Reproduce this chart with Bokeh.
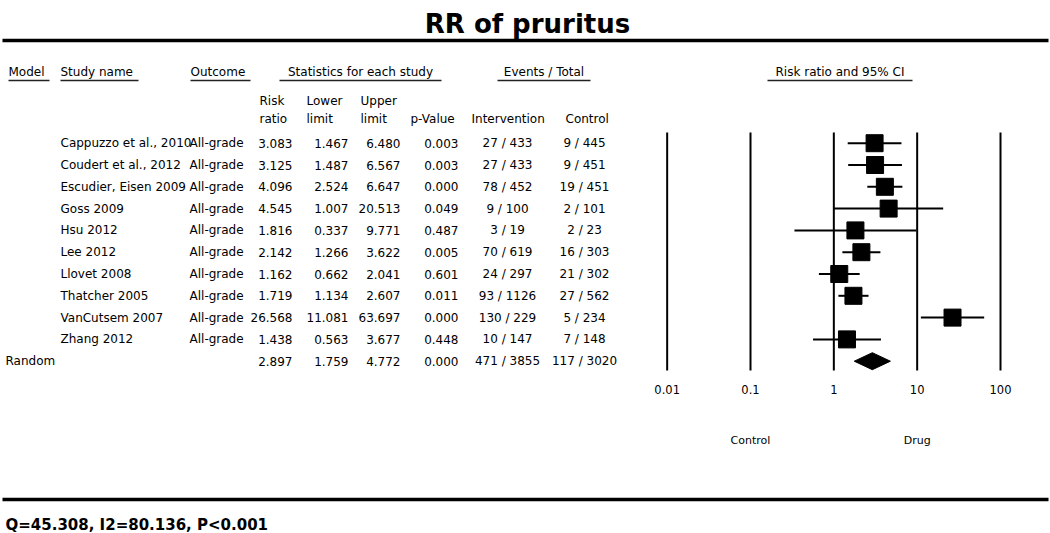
from bokeh.plotting import figure
from bokeh.models import Range1d, LogScale, ColumnDataSource
from bokeh.core.properties import value
from bokeh.embed import file_html
from bokeh.resources import INLINE

# ---------------- data ----------------
studies = ["Cappuzzo et al., 2010", "Coudert et al., 2012", "Escudier, Eisen 2009",
           "Goss 2009", "Hsu 2012", "Lee 2012", "Llovet 2008", "Thatcher 2005",
           "VanCutsem 2007", "Zhang 2012"]
outcome = ["All-grade"] * 10
risk_ratio = [3.083, 3.125, 4.096, 4.545, 1.816, 2.142, 1.162, 1.719, 26.568, 1.438]
lower_limit = [1.467, 1.487, 2.524, 1.007, 0.337, 1.266, 0.662, 1.134, 11.081, 0.563]
upper_limit = [6.480, 6.567, 6.647, 20.513, 9.771, 3.622, 2.041, 2.607, 63.697, 3.677]
p_value = [0.003, 0.003, 0.000, 0.049, 0.487, 0.005, 0.601, 0.011, 0.000, 0.448]
events_intervention = ["27 / 433", "27 / 433", "78 / 452", "9 / 100", "3 / 19", "70 / 619",
                       "24 / 297", "93 / 1126", "130 / 229", "10 / 147"]
events_control = ["9 / 445", "9 / 451", "19 / 451", "2 / 101", "2 / 23", "16 / 303",
                  "21 / 302", "27 / 562", "5 / 234", "7 / 148"]
pooled_label = "Random"
pooled_rr = 2.897
pooled_lower = 1.759
pooled_upper = 4.772
pooled_p = 0.000
pooled_intervention = "471 / 3855"
pooled_control = "117 / 3020"
axis_ticks = [0.01, 0.1, 1, 10, 100]
axis_tick_labels = ["0.01", "0.1", "1", "10", "100"]
title_text = "RR of pruritus"
favours_left = "Control"
favours_right = "Drug"
heterogeneity = "Q=45.308, I2=80.136, P<0.001"

# ---------------- layout constants ----------------
FONT = value("DejaVu Sans")
ROW0 = 142.7
ROWSTEP = 21.8
ys = [ROW0 + ROWSTEP * i for i in range(len(studies))]
ypool = ROW0 + ROWSTEP * len(studies)

p = figure(width=1050, height=533, x_range=Range1d(0, 1050), y_range=Range1d(533, 0),
           output_backend="svg", toolbar_location=None,
           x_axis_location=None, y_axis_location=None,
           min_border=0, outline_line_color=None)
for g in p.grid:
    g.visible = False
p.background_fill_color = "white"
p.border_fill_color = "white"

# log scale for the forest part: 1 decade = 83.33 units, 1 -> 833.3
p.extra_x_ranges = {"rr": Range1d(1e-10, 10 ** 2.6)}
p.extra_x_scales = {"rr": LogScale()}

def txt(x, y, t, size="12px", align="left", weight="normal", font=FONT, **kw):
    p.text(x=x, y=y, text=t, text_font=font, text_font_size=size,
           text_align=align, text_baseline="middle", text_font_style=weight,
           text_color="black", **kw)

# title
p.text(x=[527], y=[23], text=[title_text], text_font=FONT, text_font_size="26px",
       text_font_style="bold", text_align="center", text_baseline="alphabetic",
       text_color="black")

# thick rules
p.segment(x0=[2, 2], x1=[1048, 1048], y0=[40, 499], y1=[40, 499],
          line_width=3.5, line_color="black")

# column headers
hdr_text = ["Model", "Study name", "Outcome", "Statistics for each study",
            "Events / Total", "Risk ratio and 95% CI"]
hdr_x0 = [8, 60, 190, 279, 497, 767]
hdr_x1 = [49, 138, 250, 441, 590, 912]
hdr_align = ["left", "left", "left", "center", "center", "center"]
hdr_xpos = [8, 60, 190, 360, 543.5, 839.5]
for t, x, a in zip(hdr_text, hdr_xpos, hdr_align):
    txt([x], [71.5], [t], size="12px", align=a)
p.segment(x0=hdr_x0, x1=hdr_x1, y0=[80] * 6, y1=[80] * 6, line_width=1.5, line_color="#222222")

sub1 = ["Risk", "Lower", "Upper"]
sub1_x = [259, 306, 360]
txt(sub1_x, [100] * 3, sub1, size="12px")
sub2 = ["ratio", "limit", "limit", "p-Value", "Intervention", "Control"]
sub2_x = [259, 306, 360, 410, 471, 565]
txt(sub2_x, [118] * 6, sub2, size="12px")

# study rows
src = ColumnDataSource(dict(
    y=ys, study=studies, outcome=outcome,
    rr=risk_ratio, lo=lower_limit, hi=upper_limit,
    rr_s=["%.3f" % v for v in risk_ratio],
    lo_s=["%.3f" % v for v in lower_limit],
    hi_s=["%.3f" % v for v in upper_limit],
    p_s=["%.3f" % v for v in p_value],
    ev_i=events_intervention, ev_c=events_control,
))

def coltext(x, field, align):
    p.text(x=x, y="y", text=field, source=src, text_font=FONT, text_font_size="12px",
           text_align=align, text_baseline="middle", text_color="black")

coltext(60, "study", "left")
coltext(189, "outcome", "left")
coltext(292, "rr_s", "right")
coltext(348, "lo_s", "right")
coltext(400, "hi_s", "right")
coltext(458, "p_s", "right")
coltext(507, "ev_i", "center")
coltext(584, "ev_c", "center")

# pooled row
txt([5], [ypool], [pooled_label], size="12px")
txt([292, 348, 400, 458], [ypool] * 4,
    ["%.3f" % pooled_rr, "%.3f" % pooled_lower, "%.3f" % pooled_upper, "%.3f" % pooled_p],
    size="12px", align="right")
txt([507, 584], [ypool] * 2, [pooled_intervention, pooled_control], size="12px", align="center")

# forest plot: reference lines
p.segment(x0=axis_ticks, x1=axis_ticks, y0=[132] * 5, y1=[370] * 5,
          x_range_name="rr", line_width=2, line_color="black")
# CIs and point estimates
p.segment(x0="lo", x1="hi", y0="y", y1="y", source=src, x_range_name="rr",
          line_width=2, line_color="black")
p.scatter(x="rr", y="y", source=src, x_range_name="rr", marker="square", size=17,
          fill_color="black", line_color="black")
# pooled diamond
p.patch(x=[pooled_lower, pooled_rr, pooled_upper, pooled_rr],
        y=[ypool, ypool - 8.5, ypool, ypool + 8.5], x_range_name="rr",
        fill_color="black", line_color="black")

# tick labels
p.text(x=axis_ticks, y=[389] * 5, text=axis_tick_labels, x_range_name="rr",
       text_font=FONT, text_font_size="11.5px", text_align="center",
       text_baseline="middle", text_color="black")
# favours labels
p.text(x=[0.1, 10], y=[440, 440], text=[favours_left, favours_right], x_range_name="rr",
       text_font=FONT, text_font_size="11px", text_align="center",
       text_baseline="middle", text_color="black")

# heterogeneity
txt([5], [524], [heterogeneity], size="15px", weight="bold")

open("out.html", "w").write(file_html(p, INLINE))
